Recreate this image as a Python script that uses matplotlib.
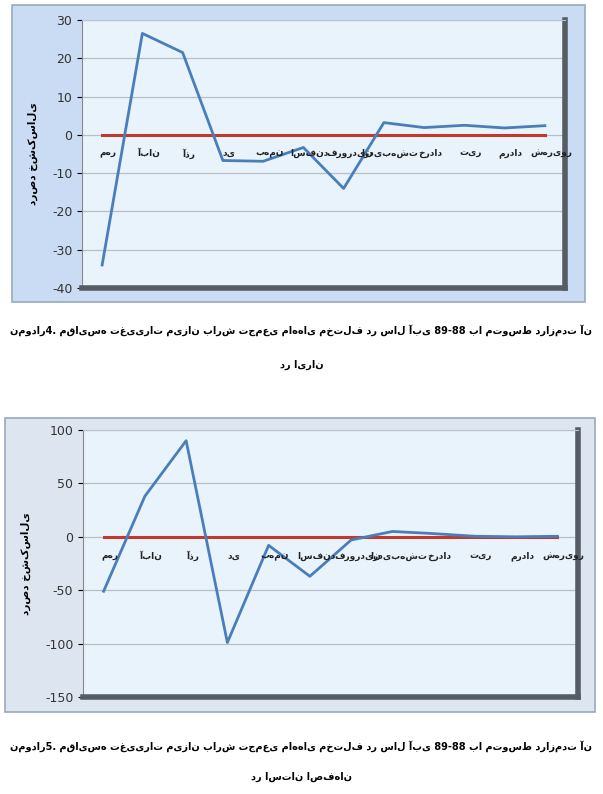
import matplotlib
matplotlib.use("Agg")
import matplotlib.pyplot as plt
from matplotlib.patches import Rectangle

months = ["مهر", "آبان", "آذر", "دی", "بهمن", "اسفند", "فروردین", "اردیبهشت", "خرداد", "تیر", "مرداد", "شهریور"]
iran = [-34, 26.5, 21.5, -6.7, -6.9, -3.3, -14, 3.2, 1.9, 2.5, 1.8, 2.4]
isfahan = [-51, 38, 90, -99, -8, -37, -3, 5, 3, 0.5, 0, 0.5]
ylabel = "درصد خشکسالی"
cap1a = "نمودار4. مقایسه تغییرات میزان بارش تجمعی ماه‌های مختلف در سال آبی 89-88 با متوسط درازمدت آن"
cap1b = "در ایران"
cap2a = "نمودار5. مقایسه تغییرات میزان بارش تجمعی ماه‌های مختلف در سال آبی 89-88 با متوسط درازمدت آن"
cap2b = "در استان اصفهان"

W, H = 603, 794
fig = plt.figure(figsize=(W/100, H/100), dpi=100)
fig.patch.set_facecolor("white")

def px(x0, y0, x1, y1):
    return [x0/W, 1-y1/H, (x1-x0)/W, (y1-y0)/H]

def panel(frame, area, vals, ylim, ticks, lab_off, frame_col):
    fx0, fy0, fx1, fy1 = frame
    fig.patches.append(Rectangle((fx0/W, 1-fy1/H), (fx1-fx0)/W, (fy1-fy0)/H,
                                 transform=fig.transFigure, facecolor=frame_col,
                                 edgecolor="#9aa9bb", lw=1.2, zorder=-5))
    ax = fig.add_axes(px(*area))
    ax.set_zorder(2)
    ax.set_facecolor("#e9f3fc")
    x = list(range(len(vals)))
    ax.set_xlim(-0.5, len(vals)-0.5)
    ax.set_ylim(*ylim)
    ax.set_yticks(ticks)
    ax.set_yticklabels([str(t) for t in ticks], fontsize=9, color="#333333")
    ax.set_xticks([i+0.5 for i in x[:-1]])
    ax.set_xticklabels([])
    ax.tick_params(axis="x", length=0)
    ax.grid(axis="y", color="#b9bec6", lw=0.9)
    ax.set_axisbelow(True)
    ax.spines["top"].set_color("#bcc3cc")
    ax.spines["left"].set_color("#888888")
    ax.spines["right"].set_color("#555c66"); ax.spines["right"].set_linewidth(4)
    ax.spines["bottom"].set_color("#555c66"); ax.spines["bottom"].set_linewidth(4)
    ax.plot(x, [0]*len(x), color="#c0392b", lw=2.2, zorder=3)
    ax.plot(x, vals, color="#4a7ebb", lw=2, zorder=4)
    for i, m in enumerate(months):
        ax.text(i+0.15, lab_off, m, ha="center", va="center", fontsize=6.5,
                fontweight="bold", color="#222222", zorder=5)
    ax.set_ylabel(ylabel, fontsize=7.5, fontweight="bold", labelpad=10)
    return ax

panel((12, 5, 585, 302), (82, 20, 565, 288), iran, (-40, 30), list(range(-40, 31, 10)), -4.8, "#c9dcf3")
panel((5, 418, 595, 712), (83, 430, 578, 697), isfahan, (-150, 100), list(range(-150, 101, 50)), -18, "#dde6f0")

for y, t in [(330, cap1a), (365, cap1b), (746, cap2a), (777, cap2b)]:
    fig.text(0.5, 1-y/H, t, ha="center", va="center", fontsize=7, fontweight="bold")

fig.savefig("out.png", dpi=100)
